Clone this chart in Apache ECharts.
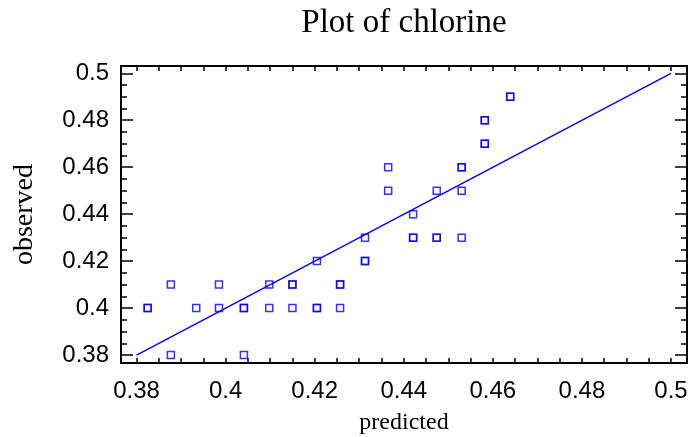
<!DOCTYPE html>
<html>
<head>
<meta charset="utf-8">
<script src="https://cdn.jsdelivr.net/npm/echarts@6/dist/echarts.min.js"></script>
<style>html,body{margin:0;padding:0;background:#fff;}#c{width:688px;height:437px;}</style>
</head>
<body>
<div id="c"></div>
<script>
// Data
var predicted = [0.3825,0.3825,0.3877,0.3877,0.3934,0.3985,0.3985,0.4041,0.4041,0.4041,0.4098,0.4098,0.415,0.415,0.415,0.4205,0.4205,0.4205,0.4257,0.4257,0.4257,0.4313,0.4313,0.4313,0.4365,0.4365,0.4421,0.4421,0.4421,0.4474,0.4474,0.4474,0.453,0.453,0.453,0.453,0.4582,0.4582,0.4582,0.4582,0.4639,0.4639];
var observed  = [0.40,0.40,0.41,0.38,0.40,0.41,0.40,0.40,0.40,0.38,0.41,0.40,0.41,0.41,0.40,0.42,0.40,0.40,0.41,0.41,0.40,0.43,0.42,0.42,0.46,0.45,0.44,0.43,0.43,0.45,0.43,0.43,0.46,0.46,0.45,0.43,0.48,0.48,0.47,0.47,0.49,0.49];
var fitLineX = [0.38, 0.5];
var fitLineY = [0.38, 0.5];
var xTickLabels = ['0.38','0.4','0.42','0.44','0.46','0.48','0.5'];
var yTickLabels = ['0.38','0.4','0.42','0.44','0.46','0.48','0.5'];
var titleText = 'Plot of chlorine';
var xName = 'predicted';
var yName = 'observed';

var XMIN = 0.3765, XMAX = 0.5036, YMIN = 0.3766, YMAX = 0.5031;
function fmt(labels){
  return function(v){
    var k = v / 0.02;
    if (Math.abs(k - Math.round(k)) > 1e-6) return '';
    var s = String(Math.round(v * 100) / 100);
    return labels.indexOf(s) >= 0 ? s : '';
  };
}
var lineStyle = {color: '#000', width: 2};

function xAx(pos, showLabel){
  return {
    type: 'value', position: pos, min: XMIN, max: XMAX, minInterval: 0.005, maxInterval: 0.005,
    axisLine: {show: true, onZero: false, lineStyle: lineStyle},
    axisTick: {show: true, inside: true, length: 5, lineStyle: {color: '#000', width: 1.5}},
    axisLabel: {show: showLabel, interval: 0, margin: 16, formatter: fmt(xTickLabels), fontFamily: 'Liberation Sans', fontSize: 24, color: '#000', showMinLabel: true, showMaxLabel: true},
    splitLine: {show: false},
    name: showLabel ? xName : '', nameLocation: 'middle', nameGap: 48,
    nameTextStyle: {fontFamily: 'Liberation Serif', fontSize: 24, color: '#000'}
  };
}
function yAx(pos, major, showLabel, withName){
  return {
    type: 'value', position: pos, min: YMIN, max: YMAX,
    minInterval: major ? 0.02 : 0.005, maxInterval: major ? 0.02 : 0.005,
    axisLine: {show: major, onZero: false, lineStyle: lineStyle},
    axisTick: {show: true, inside: true, length: major ? 12 : 6, lineStyle: {color: '#000', width: 1.5}},
    axisLabel: {show: showLabel, interval: 0, margin: 12, formatter: fmt(yTickLabels), fontFamily: 'Liberation Sans', fontSize: 24, color: '#000'},
    splitLine: {show: false},
    name: withName ? yName : '', nameLocation: 'middle', nameGap: 82,
    nameTextStyle: {fontFamily: 'Liberation Serif', fontSize: 28, color: '#000'}
  };
}

var scatterData = predicted.map(function(p, i){ return [p, observed[i]]; });
var lineData = fitLineX.map(function(x, i){ return [x, fitLineY[i]]; });

var chart = echarts.init(document.getElementById('c'), null, {renderer: 'canvas'});
chart.setOption({
  animation: false,
  backgroundColor: '#fff',
  title: {
    text: titleText, left: 404, top: 7, textAlign: 'center', padding: 0,
    textStyle: {fontFamily: 'Liberation Serif', fontSize: 33, fontWeight: 'normal', color: '#000'}
  },
  grid: {left: 121, right: 1, top: 66, bottom: 74, containLabel: false, outerBoundsMode: 'none'},
  xAxis: [xAx('bottom', true), xAx('top', false)],
  yAxis: [yAx('left', true, true, true), yAx('left', false, false, false), yAx('right', true, false, false), yAx('right', false, false, false)],
  series: [
    {
      type: 'line', xAxisIndex: 0, yAxisIndex: 0, data: lineData, showSymbol: false, silent: true,
      lineStyle: {color: '#0000ff', width: 1.4}, z: 2
    },
    {
      type: 'scatter', xAxisIndex: 0, yAxisIndex: 0, data: scatterData, symbol: 'rect', symbolSize: 7,
      itemStyle: {color: 'rgba(255,255,255,0)', borderColor: '#0000ff', borderWidth: 1.5}, z: 3
    }
  ]
});
</script>
</body>
</html>
